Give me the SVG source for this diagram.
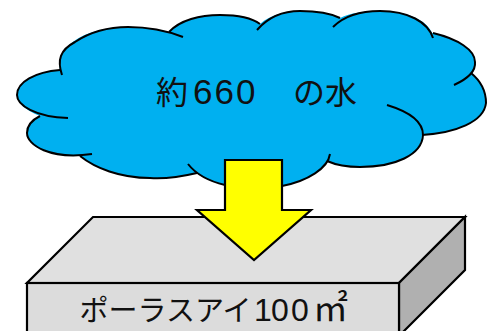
<svg xmlns="http://www.w3.org/2000/svg" width="497" height="331" viewBox="0 0 497 331">
<style>
.o{stroke:#000;fill:none;stroke-width:2;stroke-linejoin:miter}
.s{stroke:#000;stroke-width:2.2;stroke-linejoin:miter}
.t{fill:#111;font-family:"Noto Sans CJK JP","Noto Sans",sans-serif}
.d{font-family:"Liberation Sans",Arial,sans-serif}
</style>
<rect width="497" height="331" fill="#fff"/>
<g id="cloud">
<path fill="#00b0f0" stroke="none" d="M60 70C55 50 80 27 128 27C145 27 158 29 169 32C180 20 200 15 220 15C240 15 252 18 260 24C270 15 285 11 300 11C318 11 330 13 340 18C350 13 365 11 380 11C410 11 428 22 432 33C458 39 475 50 475 62C475 66 474 70 472 74C482 82 486 92 486 103C484 122 455 133 422 135C422 155 395 167 360 167C347 167 336 165 327 161C318 175 300 183 282 186C270 190 240 192 225 185C212 182 203 178 197 173C180 177 165 179 150 178C120 178 95 168 80 156C45 156 27 145 27 133C27 126 32 120 40 116C25 110 17 103 17 95C17 82 35 72 60 70Z"/>
<path class="o" d="M62 75C57 60 60 50 75 42C90 32 110 27 128 27C145 27 165 30 183 37"/>
<path class="o" d="M169 32C180 20 200 15 220 15C238 15 252 18 260 24"/>
<path class="o" d="M257 30C270 15 285 11 300 11C318 11 332 14 340 18"/>
<path class="o" d="M333 27C345 15 362 11 380 11C408 11 428 22 433 38"/>
<path class="o" d="M433 33C458 39 475 50 475 62C476 72 465 80 454 85"/>
<path class="o" d="M471 73C482 82 486 92 486 103C484 122 455 133 422 135"/>
<path class="o" d="M387 105C410 112 423 122 423 135C422 155 395 167 360 167C347 167 336 165 327 161"/>
<path class="o" d="M330 154C328 168 308 181 282 186"/>
<path class="o" d="M225 185C208 181 195 173 188 164"/>
<path class="o" d="M197 173C180 177 165 179 150 178C120 178 95 168 80 156"/>
<path class="o" d="M92 154C50 160 27 145 27 133C27 126 32 120 40 116"/>
<path class="o" d="M68 118C35 117 17 105 17 95C17 82 35 72 60 70"/>
<text class="t" font-size="32" x="156" y="104" fill="#000">約<tspan class="d" x="193" font-size="35">6</tspan><tspan class="d" x="214.5" font-size="35">6</tspan><tspan class="d" x="236" font-size="35">0</tspan><tspan x="293">の水</tspan></text>
</g>
<g id="slab">
<polygon class="s" fill="#e0e0e0" points="93,217 465,217 399,283 27,283"/>
<polygon class="s" fill="#b0b0b0" points="465,217 465,270 399,336 399,283"/>
<rect class="s" fill="#dcdcdc" x="27" y="283" width="372" height="60"/>
<text class="t" font-size="29" x="79.5" y="321">ポーラスアイ<tspan class="d" x="254" font-size="32">1</tspan><tspan class="d" x="271" font-size="32">0</tspan><tspan class="d" x="291" font-size="32">0</tspan><tspan x="313" font-size="35">㎡</tspan></text>
</g>
<g id="arrow">
<polygon class="s" fill="#ff0" points="225,160 282,160 282,210 311,210 254,260 197,210 225,210"/>
</g>
<g id="connectors"/>
</svg>
